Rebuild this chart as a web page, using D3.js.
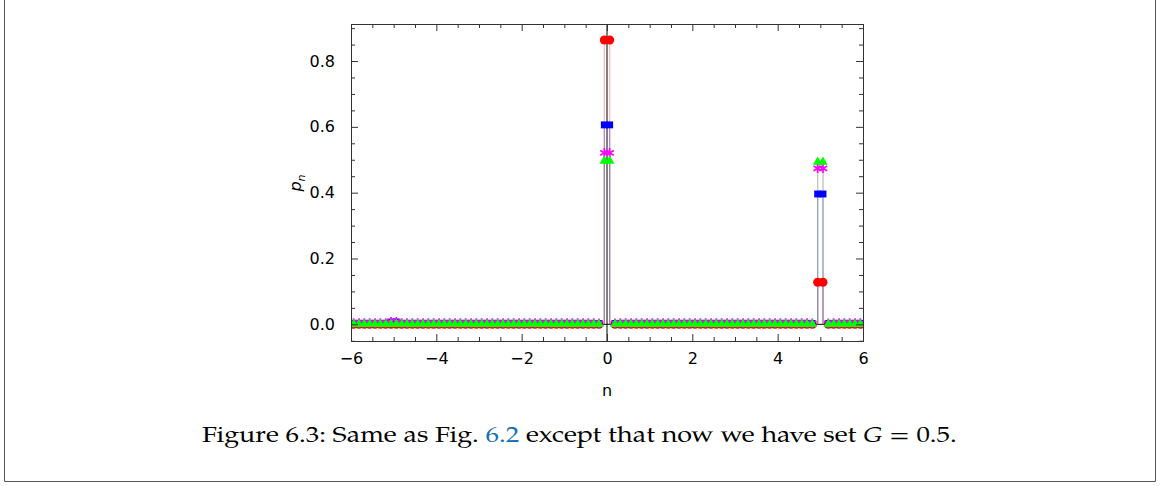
<!DOCTYPE html>
<html>
<head>
<meta charset="utf-8">
<script src="https://cdn.jsdelivr.net/npm/d3@7"></script>
<style>
  body { margin: 0; background: #fff; }
  svg { display: block; }
</style>
</head>
<body>
<svg id="fig" width="1160" height="486"></svg>
<script>
// Lattice sites: n runs over cell centres of width 0.125 from -6 to 6
const cellWidth = 0.125;
const sites = d3.range(96).map(i => -6 + cellWidth * (i + 0.5));

// Occupation probabilities p_n, one array per series (12 sites per row)
const pRed = [
  0,0,0,0,0,0,0,0,0,0,0,0,
  0,0,0,0,0,0,0,0,0,0,0,0,
  0,0,0,0,0,0,0,0,0,0,0,0,
  0,0,0,0,0,0,0,0,0,0,0,0.864,
  0.864,0,0,0,0,0,0,0,0,0,0,0,
  0,0,0,0,0,0,0,0,0,0,0,0,
  0,0,0,0,0,0,0,0,0,0,0,0,
  0,0,0,0.128,0.128,0,0,0,0,0,0,0
];
const pBlue = [
  0.003,0.003,0.003,0.003,0.003,0.003,0.003,0.007,0.007,0.003,0.003,0.003,
  0.003,0.003,0.003,0.003,0.003,0.003,0.003,0.003,0.003,0.003,0.003,0.003,
  0.003,0.003,0.003,0.003,0.003,0.003,0.003,0.003,0.003,0.003,0.003,0.003,
  0.003,0.003,0.003,0.003,0.003,0.003,0.003,0.003,0.003,0.003,0.002,0.606,
  0.606,0.002,0.003,0.003,0.003,0.003,0.003,0.003,0.003,0.003,0.003,0.003,
  0.003,0.003,0.003,0.003,0.003,0.003,0.003,0.003,0.003,0.003,0.003,0.003,
  0.003,0.003,0.003,0.003,0.003,0.003,0.003,0.003,0.003,0.003,0.003,0.003,
  0.003,0.003,0.002,0.396,0.396,0.002,0.003,0.003,0.003,0.003,0.003,0.003
];
const pMagenta = [
  0.004,0.004,0.004,0.004,0.004,0.004,0.004,0.008,0.008,0.004,0.004,0.004,
  0.004,0.004,0.004,0.004,0.004,0.004,0.004,0.004,0.004,0.004,0.004,0.004,
  0.004,0.004,0.004,0.004,0.004,0.004,0.004,0.004,0.004,0.004,0.004,0.004,
  0.004,0.004,0.004,0.004,0.004,0.004,0.004,0.004,0.004,0.004,0.003,0.521,
  0.521,0.003,0.004,0.004,0.004,0.004,0.004,0.004,0.004,0.004,0.004,0.004,
  0.004,0.004,0.004,0.004,0.004,0.004,0.004,0.004,0.004,0.004,0.004,0.004,
  0.004,0.004,0.004,0.004,0.004,0.004,0.004,0.004,0.004,0.004,0.004,0.004,
  0.004,0.004,0.003,0.474,0.474,0.003,0.004,0.004,0.004,0.004,0.004,0.004
];
const pGreen = [
  0,0,0,0,0,0,0,0,0,0,0,0,
  0,0,0,0,0,0,0,0,0,0,0,0,
  0,0,0,0,0,0,0,0,0,0,0,0,
  0,0,0,0,0,0,0,0,0,0,0,0.496,
  0.496,0,0,0,0,0,0,0,0,0,0,0,
  0,0,0,0,0,0,0,0,0,0,0,0,
  0,0,0,0,0,0,0,0,0,0,0,0,
  0,0,0,0.493,0.493,0,0,0,0,0,0,0
];

const xMajor = [-6, -4, -2, 0, 2, 4, 6];
const yMajor = [0, 0.2, 0.4, 0.6, 0.8];
const xMinor = d3.range(-6, 6.001, 0.5).filter(v => Math.abs(v / 2 - Math.round(v / 2)) > 1e-9);
const yMinor = d3.range(-0.05, 0.9001, 0.05).filter(v => Math.abs(v / 0.2 - Math.round(v / 0.2)) > 1e-6);

const series = [
  { values: pRed,     color: "#ff0000", symbol: d3.symbolCircle,   size: 64 },
  { values: pBlue,    color: "#0000ff", symbol: d3.symbolSquare,   size: 48 },
  { values: pMagenta, color: "#ff00ff", symbol: d3.symbolAsterisk, size: 64 },
  { values: pGreen,   color: "#00ff00", symbol: d3.symbolTriangle, size: 40 }
];

const svg = d3.select("#fig");
const plotLeft = 351, plotRight = 863, plotTop = 24, plotBottom = 341;

const x = d3.scaleLinear().domain([-6, 6]).range([plotLeft, plotRight]);
const y = d3.scaleLinear().domain([-0.0507, 0.9125]).range([plotBottom, plotTop]);

// Outer box of the figure
svg.append("path")
  .attr("d", "M4.5,-2 V481.5 H1155.5 V-2")
  .attr("fill", "none").attr("stroke", "#555").attr("stroke-width", 1);

svg.append("defs").append("clipPath").attr("id", "plotClip")
  .append("rect").attr("x", plotLeft).attr("y", plotTop)
  .attr("width", plotRight - plotLeft).attr("height", plotBottom - plotTop);

const plot = svg.append("g").attr("clip-path", "url(#plotClip)");

// Axes through the origin
plot.append("line")
  .attr("x1", plotLeft).attr("x2", plotRight).attr("y1", y(0)).attr("y2", y(0))
  .attr("stroke", "#000").attr("stroke-width", 1);
plot.append("line")
  .attr("x1", x(0)).attr("x2", x(0)).attr("y1", plotTop).attr("y2", plotBottom)
  .attr("stroke", "#000").attr("stroke-width", 1);

// Stems from each point down to the axis
series.forEach(s => {
  plot.append("g")
    .selectAll("line")
    .data(s.values.map((v, i) => [sites[i], v]))
    .join("line")
    .attr("x1", d => x(d[0])).attr("x2", d => x(d[0]))
    .attr("y1", y(0)).attr("y2", d => y(d[1]))
    .attr("stroke", s.color).attr("stroke-opacity", 0.28)
    .attr("stroke-width", 1.3);
});

// Point markers
series.forEach(s => {
  const sym = d3.symbol().type(s.symbol).size(s.size);
  const g = plot.append("g");
  const marks = g.selectAll("path")
    .data(s.values.map((v, i) => [sites[i], v]))
    .join("path")
    .attr("d", sym)
    .attr("transform", d => `translate(${x(d[0])},${y(d[1])})`)
    .attr("fill", s.color);
  if (s.symbol === d3.symbolAsterisk) {
    marks.attr("stroke", s.color).attr("stroke-width", 1.7).attr("fill", "none");
  }
});

// Frame with inward ticks
const frameColor = "#333";
const fontFamily = "'DejaVu Sans', Verdana, sans-serif";
const labelSize = 16;

function styleAxis(g) {
  g.select(".domain").attr("stroke", frameColor);
  g.selectAll(".tick line").attr("stroke", frameColor);
  g.selectAll("text").attr("font-family", fontFamily).attr("font-size", labelSize).attr("fill", "#000");
}

svg.append("g").attr("transform", `translate(0,${plotBottom})`)
  .call(d3.axisBottom(x).tickValues(xMajor).tickSizeInner(-7).tickSizeOuter(0).tickPadding(12)
    .tickFormat(d3.format("d")))
  .call(styleAxis);
svg.append("g").attr("transform", `translate(0,${plotBottom})`)
  .call(d3.axisBottom(x).tickValues(xMinor).tickSizeInner(-4).tickSizeOuter(0).tickFormat(""))
  .call(styleAxis);
svg.append("g").attr("transform", `translate(0,${plotTop})`)
  .call(d3.axisTop(x).tickValues(xMajor).tickSizeInner(-7).tickSizeOuter(0).tickFormat(""))
  .call(styleAxis);
svg.append("g").attr("transform", `translate(0,${plotTop})`)
  .call(d3.axisTop(x).tickValues(xMinor).tickSizeInner(-4).tickSizeOuter(0).tickFormat(""))
  .call(styleAxis);

svg.append("g").attr("transform", `translate(${plotLeft},0)`)
  .call(d3.axisLeft(y).tickValues(yMajor).tickSizeInner(-7).tickSizeOuter(0).tickPadding(16)
    .tickFormat(d3.format(".1f")))
  .call(styleAxis);
svg.append("g").attr("transform", `translate(${plotLeft},0)`)
  .call(d3.axisLeft(y).tickValues(yMinor).tickSizeInner(-4).tickSizeOuter(0).tickFormat(""))
  .call(styleAxis);
svg.append("g").attr("transform", `translate(${plotRight},0)`)
  .call(d3.axisRight(y).tickValues(yMajor).tickSizeInner(-7).tickSizeOuter(0).tickFormat(""))
  .call(styleAxis);
svg.append("g").attr("transform", `translate(${plotRight},0)`)
  .call(d3.axisRight(y).tickValues(yMinor).tickSizeInner(-4).tickSizeOuter(0).tickFormat(""))
  .call(styleAxis);

// Axis titles
svg.append("text")
  .attr("x", x(0)).attr("y", 396)
  .attr("text-anchor", "middle")
  .attr("font-family", fontFamily).attr("font-size", labelSize)
  .text("n");

const yTitle = svg.append("text")
  .attr("transform", "translate(301,183) rotate(-90)")
  .attr("text-anchor", "middle")
  .attr("font-family", fontFamily).attr("font-size", labelSize)
  .attr("font-style", "italic");
yTitle.append("tspan").text("p");
yTitle.append("tspan").attr("font-size", 11).attr("dy", 4).text("n");

// Caption
const caption = svg.append("text")
  .attr("x", 202).attr("y", 442.5)
  .attr("font-family", "'TeX Gyre Pagella', 'Palatino Linotype', Palatino, 'Liberation Serif', serif")
  .attr("font-size", 22)
  .attr("fill", "#000");
caption.append("tspan").text("Figure 6.3: Same as Fig. ");
caption.append("tspan").attr("fill", "#1670b8").text("6.2");
caption.append("tspan").text(" except that now we have set ");
caption.append("tspan").attr("font-style", "italic").text("G");
caption.append("tspan").text(" = 0.5.");

const natural = caption.node().getComputedTextLength();
const targetWidth = 755;
if (natural > 0) {
  const sx = targetWidth / natural;
  caption.attr("transform", `translate(202,0) scale(${sx},1) translate(-202,0)`);
}
</script>
</body>
</html>
